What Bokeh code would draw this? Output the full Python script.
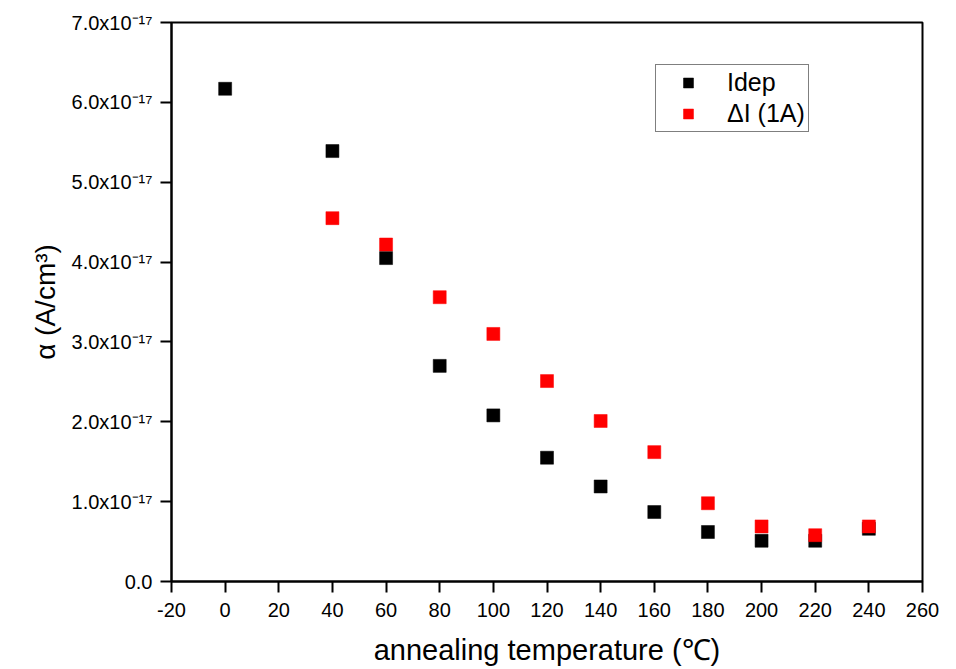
from bokeh.plotting import figure
from bokeh.models import ColumnDataSource, Range1d, FixedTicker, Legend, LegendItem
from bokeh.embed import file_html
from bokeh.resources import INLINE

# annealing temperatures (degC) and damage constants alpha (A/cm^3)
temp_idep = [0, 40, 60, 80, 100, 120, 140, 160, 180, 200, 220, 240]
alpha_idep = [6.17e-17, 5.39e-17, 4.05e-17, 2.70e-17, 2.08e-17, 1.55e-17,
              1.19e-17, 0.87e-17, 0.62e-17, 0.51e-17, 0.51e-17, 0.66e-17]

temp_di = [40, 60, 80, 100, 120, 140, 160, 180, 200, 220, 240]
alpha_di = [4.55e-17, 4.22e-17, 3.56e-17, 3.10e-17, 2.51e-17, 2.01e-17,
            1.62e-17, 0.98e-17, 0.69e-17, 0.58e-17, 0.69e-17]

x_ticks = list(range(-20, 261, 20))
x_tick_labels = [str(t) for t in x_ticks]
y_ticks = [i * 1e-17 for i in range(0, 8)]
y_tick_labels = ["0.0", "1.0x10⁻¹⁷", "2.0x10⁻¹⁷", "3.0x10⁻¹⁷", "4.0x10⁻¹⁷",
                 "5.0x10⁻¹⁷", "6.0x10⁻¹⁷", "7.0x10⁻¹⁷"]

FONT = "Liberation Sans"

p = figure(width=956, height=669, output_backend="svg", toolbar_location=None,
           x_range=Range1d(-20, 260), y_range=Range1d(0, 7e-17),
           min_border_left=171, min_border_right=34, min_border_top=22,
           min_border_bottom=88)
p.background_fill_color = "white"
p.border_fill_color = "white"
p.outline_line_color = "black"
p.outline_line_width = 2
p.xgrid.visible = False
p.ygrid.visible = False

for ax in (p.xaxis[0], p.yaxis[0]):
    ax.axis_line_width = 2
    ax.axis_line_color = "black"
    ax.major_tick_line_width = 2
    ax.major_tick_line_color = "black"
    ax.major_tick_in = 0
    ax.major_tick_out = 11
    ax.minor_tick_line_color = None
    ax.major_label_text_font = FONT
    ax.major_label_text_font_size = "20px"
    ax.major_label_text_color = "black"
    ax.axis_label_text_font = FONT
    ax.axis_label_text_font_style = "normal"
    ax.axis_label_text_color = "black"

p.xaxis.ticker = FixedTicker(ticks=x_ticks)
p.xaxis.major_label_overrides = {t: lab for t, lab in zip(x_ticks, x_tick_labels)}
p.xaxis.major_label_standoff = 10
p.xaxis.axis_label = "annealing temperature (℃)"
p.xaxis.axis_label_text_font_size = "29px"
p.xaxis.axis_label_standoff = 14

p.yaxis.ticker = FixedTicker(ticks=y_ticks)
p.yaxis.major_label_overrides = {t: lab for t, lab in zip(y_ticks, y_tick_labels)}
p.yaxis.major_label_standoff = 8
p.yaxis.axis_label = "α (A/cm³)"
p.yaxis.axis_label_text_font_size = "28px"
p.yaxis.axis_label_standoff = 8

src_idep = ColumnDataSource(dict(x=temp_idep, y=alpha_idep))
src_di = ColumnDataSource(dict(x=temp_di, y=alpha_di))

r_idep = p.scatter("x", "y", source=src_idep, marker="square", size=13,
                   fill_color="black", line_color="black", line_width=0.5)
r_di = p.scatter("x", "y", source=src_di, marker="square", size=13,
                 fill_color="#ff0000", line_color="#ff0000", line_width=0.5)

legend = Legend(items=[LegendItem(label="Idep", renderers=[r_idep]),
                       LegendItem(label="ΔI (1A)", renderers=[r_di])],
                location=(484, 449))
legend.label_text_font = FONT
legend.label_text_font_size = "25px"
legend.label_text_color = "black"
legend.padding = 3
legend.margin = 0
legend.spacing = 2
legend.glyph_width = 58
legend.glyph_height = 25
legend.label_height = 25
legend.label_standoff = 10
legend.border_line_color = "black"
legend.border_line_width = 1
legend.background_fill_color = "white"
legend.background_fill_alpha = 1.0
p.add_layout(legend, "center")

open("out.html", "w").write(file_html(p, INLINE))
